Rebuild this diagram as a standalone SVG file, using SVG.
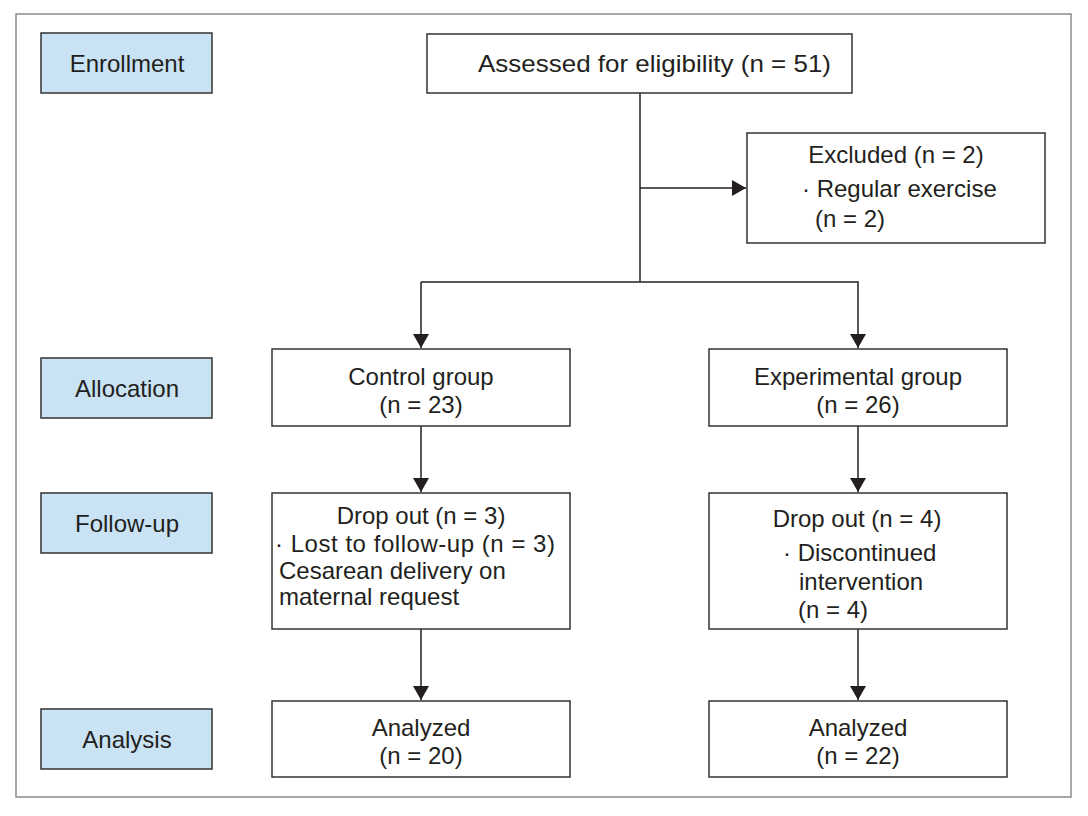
<svg xmlns="http://www.w3.org/2000/svg" width="1088" height="816" viewBox="0 0 1088 816">
<style>
  .frame { fill: #ffffff; stroke: #8a8a8a; stroke-width: 1.5; }
  .label { fill: #c9e2f4; stroke: #333333; stroke-width: 1.5; }
  .box { fill: #ffffff; stroke: #333333; stroke-width: 1.5; }
  .conn { fill: none; stroke: #231f20; stroke-width: 1.5; }
  text { font-family: "Liberation Sans", Arial, sans-serif; font-size: 24px; fill: #231f20; }
  .c { text-anchor: middle; }
</style>
<defs>
  <marker id="arrow" markerUnits="userSpaceOnUse" markerWidth="16" markerHeight="16" viewBox="0 0 14 16" refX="14" refY="8" orient="auto">
    <path d="M0,0 L14,8 L0,16 Z" fill="#231f20"/>
  </marker>
</defs>
<rect class="frame" x="16" y="14" width="1055" height="783"/>

<g id="connectors">
  <path class="conn" d="M640,93 V282"/>
  <path class="conn" d="M640,188 H746" marker-end="url(#arrow)"/>
  <path class="conn" d="M421,282 H858 V348" marker-end="url(#arrow)"/>
  <path class="conn" d="M421,282 V348" marker-end="url(#arrow)"/>
  <path class="conn" d="M421,426 V492" marker-end="url(#arrow)"/>
  <path class="conn" d="M858,426 V492" marker-end="url(#arrow)"/>
  <path class="conn" d="M421,629 V700" marker-end="url(#arrow)"/>
  <path class="conn" d="M858,629 V700" marker-end="url(#arrow)"/>
</g>

<g id="enrollment">
  <rect class="label" x="41" y="33" width="171" height="60"/>
  <text class="c" x="127" y="72">Enrollment</text>
</g>
<g id="allocation">
  <rect class="label" x="41" y="358" width="171" height="60"/>
  <text class="c" x="127" y="397">Allocation</text>
</g>
<g id="followup">
  <rect class="label" x="41" y="493" width="171" height="60"/>
  <text class="c" x="127" y="532">Follow-up</text>
</g>
<g id="analysis">
  <rect class="label" x="41" y="709" width="171" height="60"/>
  <text class="c" x="127" y="748">Analysis</text>
</g>

<g id="assessed">
  <rect class="box" x="427" y="34" width="425" height="59"/>
  <text x="478" y="72" textLength="353" lengthAdjust="spacingAndGlyphs">Assessed for eligibility (n = 51)</text>
</g>
<g id="excluded">
  <rect class="box" x="747" y="133" width="298" height="110"/>
  <text class="c" x="896" y="163">Excluded (n = 2)</text>
  <text x="802" y="197">· Regular exercise</text>
  <text x="815" y="227">(n = 2)</text>
</g>
<g id="control">
  <rect class="box" x="272" y="349" width="298" height="77"/>
  <text class="c" x="421" y="385">Control group</text>
  <text class="c" x="421" y="413">(n = 23)</text>
</g>
<g id="experimental">
  <rect class="box" x="709" y="349" width="298" height="77"/>
  <text class="c" x="858" y="385">Experimental group</text>
  <text class="c" x="858" y="413">(n = 26)</text>
</g>
<g id="dropout-control">
  <rect class="box" x="272" y="493" width="298" height="136"/>
  <text class="c" x="421" y="524">Drop out (n = 3)</text>
  <text x="275" y="552" textLength="280" lengthAdjust="spacing">· Lost to follow-up (n = 3)</text>
  <text x="279" y="579">Cesarean delivery on</text>
  <text x="279" y="605">maternal request</text>
</g>
<g id="dropout-experimental">
  <rect class="box" x="709" y="493" width="298" height="136"/>
  <text class="c" x="857" y="527">Drop out (n = 4)</text>
  <text x="783" y="561">· Discontinued</text>
  <text x="799" y="590">intervention</text>
  <text x="798" y="618">(n = 4)</text>
</g>
<g id="analyzed-control">
  <rect class="box" x="272" y="701" width="298" height="76"/>
  <text class="c" x="421" y="736">Analyzed</text>
  <text class="c" x="421" y="764">(n = 20)</text>
</g>
<g id="analyzed-experimental">
  <rect class="box" x="709" y="701" width="298" height="76"/>
  <text class="c" x="858" y="736">Analyzed</text>
  <text class="c" x="858" y="764">(n = 22)</text>
</g>
</svg>
